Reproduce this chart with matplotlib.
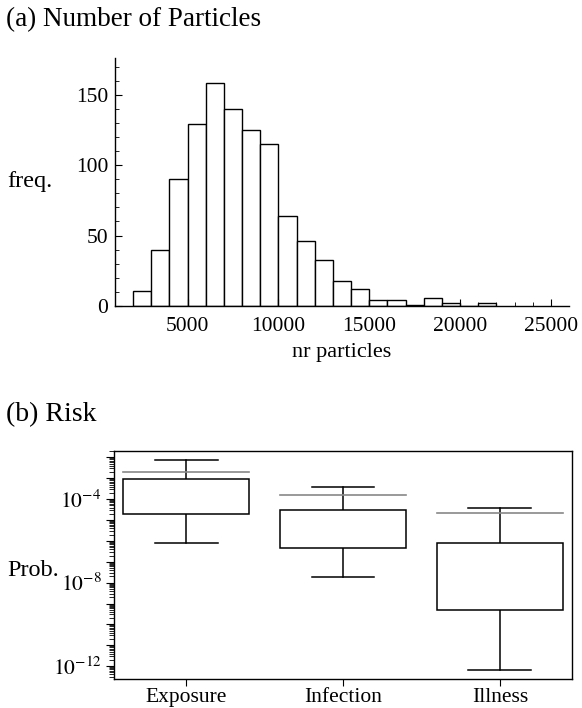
import matplotlib
matplotlib.use("Agg")
from matplotlib import pyplot as plt
from matplotlib.ticker import LogLocator, NullFormatter, FuncFormatter
import numpy as np

plt.rcParams['font.family'] = ['Liberation Serif', 'DejaVu Serif']
plt.rcParams['mathtext.fontset'] = 'stix'

# histogram of particle numbers (bins of 1000 starting at 2000)
bin_edges = np.arange(2000, 23000, 1000)
counts = [11, 40, 90, 129, 158, 140, 125, 115, 64, 46, 33, 18, 12, 4, 4, 1, 6, 2, 0, 2]

# risk box-whisker summary, log10 values
categories = ["Exposure", "Infection", "Illness"]
whisk_lo = [-6.08, -7.75, -12.16]
q1 = [-4.69, -6.33, -9.33]
q3 = [-3.04, -4.54, -6.09]
whisk_hi = [-2.12, -3.43, -4.42]
mean = [-2.68, -3.81, -4.67]

fig = plt.figure(figsize=(5.82, 7.08), dpi=100)

# ---- (a) histogram
ax1 = fig.add_axes([0.1976, 0.5678, 0.9777 - 0.1976, 0.918 - 0.5678])
ax1.bar(bin_edges[:-1], counts, width=1000, align='edge', facecolor='white',
        edgecolor='black', linewidth=1.0)
ax1.set_xlim(1000, 26000)
ax1.set_ylim(0, 176)
for s in ['top', 'right']:
    ax1.spines[s].set_visible(False)
ax1.spines['left'].set_linewidth(1.0)
ax1.spines['bottom'].set_linewidth(1.0)
ax1.set_xticks([5000, 10000, 15000, 20000, 25000])
ax1.set_xticks(np.arange(2000, 26000, 1000), minor=True)
ax1.set_yticks([0, 50, 100, 150])
ax1.set_yticks(np.arange(10, 176, 10), minor=True)
ax1.tick_params(axis='both', which='major', direction='in', length=5, width=0.8,
                labelsize=15.5, pad=5)
ax1.tick_params(axis='x', which='major', pad=8)
ax1.tick_params(axis='both', which='minor', direction='in', length=3, width=0.6)
ax1.set_xlabel("nr particles", fontsize=16, labelpad=5)
fig.text(0.013, 0.743, "freq.", fontsize=17.5, va='center', ha='left')
fig.text(0.010, 0.972, "(a) Number of Particles", fontsize=19.5, va='center', ha='left')

# ---- (b) risk box plot
ax2 = fig.add_axes([0.1959, 0.0414, 0.9828 - 0.1959, 0.363 - 0.0414])
ax2.set_yscale('log')
pos = np.arange(1, len(categories) + 1)
bw = 0.8
cw = 0.4
for i, p in enumerate(pos):
    lo, a, b, hi, m = [10.0 ** v for v in (whisk_lo[i], q1[i], q3[i], whisk_hi[i], mean[i])]
    ax2.add_patch(plt.Rectangle((p - bw / 2, a), bw, b - a, facecolor='white',
                                edgecolor='black', linewidth=1.1, zorder=3))
    ax2.plot([p, p], [b, hi], color='black', lw=1.1)
    ax2.plot([p, p], [lo, a], color='black', lw=1.1)
    ax2.plot([p - cw / 2, p + cw / 2], [hi, hi], color='black', lw=1.1)
    ax2.plot([p - cw / 2, p + cw / 2], [lo, lo], color='black', lw=1.1)
    ax2.plot([p - bw / 2, p + bw / 2], [m, m], color='#888888', lw=1.2, zorder=4)
ax2.set_xlim(0.54, 3.46)
ax2.set_ylim(10 ** -12.6, 10 ** -1.69)
ax2.set_xticks(pos)
ax2.set_xticklabels(categories)
ax2.yaxis.set_major_locator(LogLocator(base=10, numticks=20))
ax2.yaxis.set_minor_locator(LogLocator(base=10, subs=np.arange(2, 10), numticks=20))
ax2.yaxis.set_minor_formatter(NullFormatter())


def fmt(v, _):
    e = int(round(np.log10(v)))
    if e in (-4, -8, -12):
        return r"$10^{\mathrm{-%d}}$" % (-e)
    return ""


ax2.yaxis.set_major_formatter(FuncFormatter(fmt))
ax2.tick_params(axis='y', which='major', direction='out', length=6, width=0.8,
                labelsize=15.5, pad=3)
ax2.tick_params(axis='y', which='minor', direction='out', length=3.5, width=0.6)
ax2.tick_params(axis='x', which='major', direction='out', length=5, width=0.8,
                labelsize=15.5, pad=2)
for s in ax2.spines.values():
    s.set_linewidth(1.0)
fig.text(0.012, 0.194, "Prob.", fontsize=17.5, va='center', ha='left')
fig.text(0.010, 0.414, "(b) Risk", fontsize=20, va='center', ha='left')

fig.savefig("out.png", dpi=100)
